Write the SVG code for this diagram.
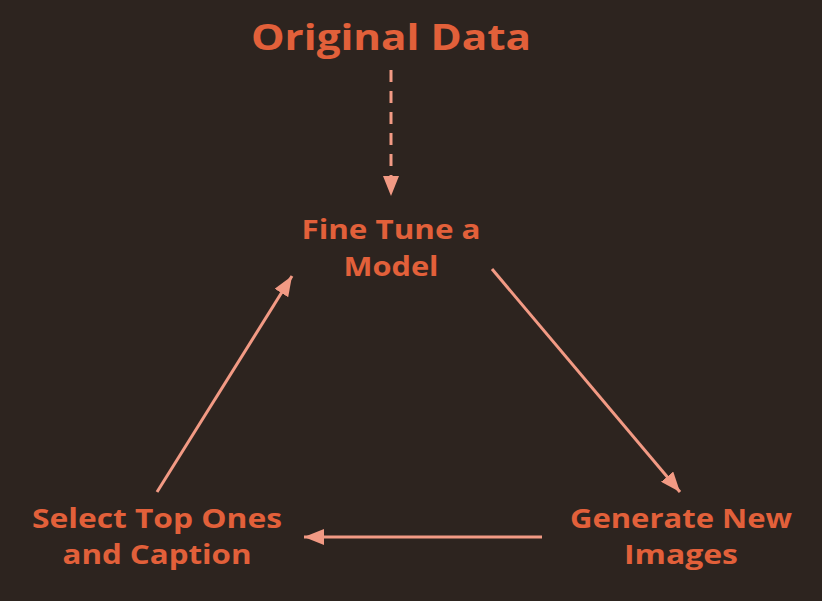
<svg xmlns="http://www.w3.org/2000/svg" width="822" height="601" viewBox="0 0 822 601">
<style>
.t{font-family:"Open Sans","Lato",sans-serif;font-weight:700;fill:#e2603a;text-anchor:middle}
.n{font-size:26px}
.c{stroke:#f29a84;stroke-width:3;fill:none}
</style>
<defs>
<marker id="b" viewBox="0 0 20 16" refX="20" refY="8" markerWidth="20" markerHeight="16" orient="auto" markerUnits="userSpaceOnUse"><path d="M0,0 L20,8 L0,16 Z" fill="#f29a84"/></marker></defs>
<rect width="822" height="601" fill="#2d241f"/>
<g id="original"><text class="t" x="391" y="50" font-size="36" textLength="280" lengthAdjust="spacingAndGlyphs">Original Data</text></g>
<g id="finetune"><text class="t n" x="391" y="239" textLength="179" lengthAdjust="spacingAndGlyphs">Fine Tune a</text><text class="t n" x="391" y="276" textLength="95" lengthAdjust="spacingAndGlyphs">Model</text></g>
<g id="generate"><text class="t n" x="681" y="528" textLength="222" lengthAdjust="spacingAndGlyphs">Generate New</text><text class="t n" x="681" y="564" textLength="114" lengthAdjust="spacingAndGlyphs">Images</text></g>
<g id="select"><text class="t n" x="157" y="528" textLength="250" lengthAdjust="spacingAndGlyphs">Select Top Ones</text><text class="t n" x="157" y="564" textLength="189" lengthAdjust="spacingAndGlyphs">and Caption</text></g>
<g id="connectors">
<line class="c" x1="391" y1="70" x2="391" y2="196" stroke-dasharray="12,9" marker-end="url(#b)"/>
<line class="c" x1="492" y1="269" x2="680" y2="492" marker-end="url(#b)"/>
<line class="c" x1="542" y1="537" x2="304" y2="537" marker-end="url(#b)"/>
<line class="c" x1="157" y1="492" x2="292" y2="276" marker-end="url(#b)"/>
</g>
</svg>
